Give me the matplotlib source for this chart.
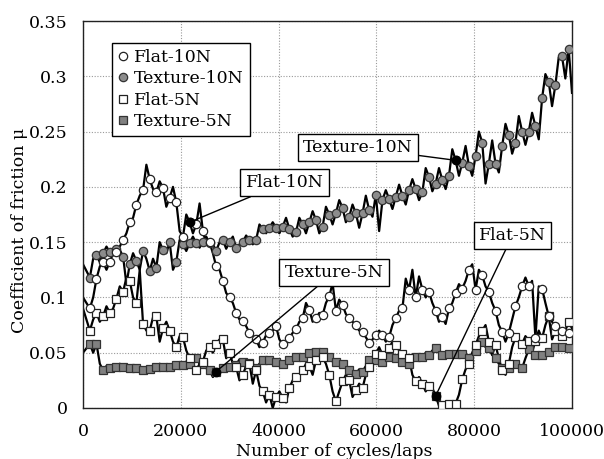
import numpy as np
import matplotlib
matplotlib.use("Agg")
import matplotlib.pyplot as plt

plt.rcParams['font.family'] = ['DejaVu Serif']

# marker sample positions (cycles)
cycles = 1400 + 1360 * np.arange(73)
mid_cycles = cycles[:-1] + 680

# values at marker positions
texture10 = [0.118, 0.138, 0.140, 0.141, 0.144, 0.137, 0.130, 0.133, 0.142, 0.124,
             0.127, 0.143, 0.150, 0.132, 0.148, 0.149, 0.149, 0.150, 0.149, 0.142,
             0.152, 0.150, 0.145, 0.150, 0.152, 0.152, 0.162, 0.163, 0.163, 0.164,
             0.162, 0.159, 0.166, 0.168, 0.170, 0.164, 0.175, 0.176, 0.181, 0.173,
             0.176, 0.176, 0.179, 0.193, 0.188, 0.189, 0.191, 0.192, 0.197, 0.198,
             0.195, 0.209, 0.203, 0.206, 0.210, 0.224, 0.222, 0.219, 0.228, 0.240,
             0.221, 0.221, 0.237, 0.247, 0.240, 0.250, 0.250, 0.255, 0.280, 0.295,
             0.292, 0.318, 0.325]
flat10 = [0.090, 0.117, 0.132, 0.132, 0.141, 0.152, 0.168, 0.184, 0.197, 0.207,
          0.195, 0.199, 0.190, 0.186, 0.155, 0.168, 0.166, 0.160, 0.150, 0.128,
          0.115, 0.100, 0.086, 0.079, 0.068, 0.062, 0.059, 0.068, 0.074, 0.058,
          0.063, 0.071, 0.081, 0.089, 0.081, 0.084, 0.101, 0.088, 0.093, 0.081,
          0.075, 0.069, 0.059, 0.066, 0.066, 0.064, 0.081, 0.090, 0.107, 0.100,
          0.107, 0.105, 0.088, 0.082, 0.090, 0.104, 0.108, 0.125, 0.107, 0.120,
          0.105, 0.088, 0.069, 0.068, 0.092, 0.110, 0.110, 0.063, 0.108, 0.083,
          0.074, 0.070, 0.068]
flat5 = [0.070, 0.086, 0.083, 0.086, 0.099, 0.105, 0.115, 0.095, 0.076, 0.070,
         0.083, 0.072, 0.070, 0.055, 0.064, 0.045, 0.034, 0.042, 0.055, 0.058,
         0.062, 0.050, 0.037, 0.030, 0.040, 0.034, 0.015, 0.012, 0.010, 0.009,
         0.018, 0.028, 0.034, 0.038, 0.043, 0.046, 0.030, 0.006, 0.024, 0.025,
         0.016, 0.018, 0.037, 0.049, 0.048, 0.054, 0.057, 0.049, 0.045, 0.024,
         0.022, 0.020, 0.011, 0.003, 0.004, 0.004, 0.026, 0.040, 0.057, 0.070,
         0.060, 0.057, 0.034, 0.040, 0.064, 0.058, 0.061, 0.061, 0.063, 0.083,
         0.070, 0.065, 0.078]
texture5 = [0.058, 0.058, 0.034, 0.036, 0.037, 0.037, 0.036, 0.036, 0.034, 0.035,
            0.037, 0.037, 0.037, 0.039, 0.039, 0.040, 0.045, 0.040, 0.034, 0.033,
            0.036, 0.037, 0.039, 0.042, 0.041, 0.036, 0.043, 0.043, 0.042, 0.040,
            0.043, 0.046, 0.046, 0.050, 0.051, 0.051, 0.046, 0.042, 0.040, 0.034,
            0.031, 0.033, 0.043, 0.043, 0.042, 0.046, 0.045, 0.042, 0.040, 0.046,
            0.046, 0.048, 0.054, 0.048, 0.049, 0.049, 0.049, 0.045, 0.052, 0.060,
            0.054, 0.045, 0.036, 0.036, 0.040, 0.036, 0.053, 0.048, 0.048, 0.051,
            0.055, 0.055, 0.054]

# raw-line values between marker positions (noise peaks)
texture10_mid = [0.135, 0.132, 0.146, 0.138, 0.143, 0.112, 0.140, 0.125, 0.135, 0.135,
                 0.150, 0.140, 0.125, 0.152, 0.142, 0.155, 0.145, 0.155, 0.148, 0.150,
                 0.144, 0.155, 0.148, 0.156, 0.148, 0.166, 0.158, 0.168, 0.158, 0.172,
                 0.155, 0.172, 0.158, 0.178, 0.158, 0.182, 0.166, 0.188, 0.168, 0.184,
                 0.163, 0.192, 0.173, 0.160, 0.197, 0.180, 0.202, 0.184, 0.207, 0.188,
                 0.217, 0.196, 0.217, 0.198, 0.234, 0.210, 0.237, 0.210, 0.250, 0.203,
                 0.242, 0.213, 0.257, 0.230, 0.264, 0.238, 0.267, 0.243, 0.302, 0.273,
                 0.317, 0.298]
flat10_mid = [0.100, 0.128, 0.125, 0.140, 0.146, 0.158, 0.172, 0.192, 0.220, 0.198,
              0.205, 0.182, 0.200, 0.160, 0.175, 0.158, 0.185, 0.148, 0.140, 0.125,
              0.104, 0.095, 0.080, 0.074, 0.066, 0.055, 0.066, 0.070, 0.062, 0.057,
              0.068, 0.078, 0.095, 0.078, 0.086, 0.095, 0.113, 0.098, 0.085, 0.078,
              0.070, 0.064, 0.062, 0.070, 0.060, 0.075, 0.088, 0.117, 0.125, 0.119,
              0.100, 0.095, 0.078, 0.076, 0.095, 0.112, 0.115, 0.130, 0.125, 0.110,
              0.095, 0.075, 0.060, 0.080, 0.100, 0.118, 0.115, 0.110, 0.095, 0.078,
              0.068, 0.066]
flat5_mid = [0.080, 0.078, 0.092, 0.090, 0.110, 0.118, 0.100, 0.125, 0.070, 0.082,
             0.060, 0.078, 0.060, 0.065, 0.052, 0.040, 0.040, 0.052, 0.050, 0.062,
             0.045, 0.040, 0.025, 0.038, 0.022, 0.020, 0.005, 0.000, 0.015, 0.005,
             0.025, 0.030, 0.040, 0.030, 0.050, 0.040, 0.015, 0.015, 0.030, 0.010,
             0.022, 0.030, 0.044, 0.055, 0.050, 0.060, 0.052, 0.040, 0.030, 0.028,
             0.015, 0.018, 0.002, 0.000, 0.002, 0.012, 0.035, 0.050, 0.065, 0.075,
             0.048, 0.045, 0.030, 0.055, 0.060, 0.065, 0.050, 0.070, 0.075, 0.062,
             0.072, 0.070]
texture5_mid = [0.050, 0.040, 0.038, 0.034, 0.040, 0.035, 0.038, 0.033, 0.037, 0.034,
                0.040, 0.036, 0.040, 0.037, 0.042, 0.043, 0.040, 0.036, 0.028, 0.035,
                0.038, 0.036, 0.044, 0.036, 0.040, 0.040, 0.045, 0.040, 0.044, 0.042,
                0.044, 0.048, 0.045, 0.053, 0.048, 0.048, 0.042, 0.038, 0.036, 0.030,
                0.035, 0.038, 0.045, 0.040, 0.045, 0.044, 0.044, 0.040, 0.044, 0.045,
                0.050, 0.052, 0.050, 0.050, 0.048, 0.050, 0.046, 0.048, 0.058, 0.055,
                0.048, 0.040, 0.034, 0.038, 0.038, 0.045, 0.050, 0.046, 0.050, 0.053,
                0.056, 0.054]

# line start (cycle 0) and end (cycle 100000) values
start_vals = {"Flat-10N": 0.100, "Texture-10N": 0.130, "Flat-5N": 0.090, "Texture-5N": 0.050}
end_vals = {"Flat-10N": 0.066, "Texture-10N": 0.285, "Flat-5N": 0.072, "Texture-5N": 0.052}

labels = ["Flat-10N", "Texture-10N", "Flat-5N", "Texture-5N"]
y_ticks = [0, 0.05, 0.1, 0.15, 0.2, 0.25, 0.3, 0.35]
y_tick_labels = ["0", "0.05", "0.1", "0.15", "0.2", "0.25", "0.3", "0.35"]
x_ticks = [0, 20000, 40000, 60000, 80000, 100000]


def line_xy(vals, mids, start, end):
    xs = [0.0]
    ys = [start]
    for i in range(len(vals)):
        xs.append(cycles[i]); ys.append(vals[i])
        if i < len(mids):
            xs.append(mid_cycles[i]); ys.append(mids[i])
    xs.append(100000); ys.append(end)
    return xs, ys


fig = plt.figure(figsize=(6.04, 4.59), dpi=100)
ax = fig.add_axes([83/604, 1-408/459, 489/604, 387/459])

series = {
    "Texture-5N": (texture5, texture5_mid, dict(marker='s', mfc='#808080', mec='#333333')),
    "Flat-5N": (flat5, flat5_mid, dict(marker='s', mfc='white', mec='#222222')),
    "Texture-10N": (texture10, texture10_mid, dict(marker='o', mfc='#8c8c8c', mec='#333333')),
    "Flat-10N": (flat10, flat10_mid, dict(marker='o', mfc='white', mec='#222222')),
}
handles = {}
for name, (vals, mids, st) in series.items():
    lx, ly = line_xy(vals, mids, start_vals[name], end_vals[name])
    ax.plot(lx, ly, color='black', lw=1.6, zorder=2)
    h, = ax.plot(cycles, vals, ls='none', ms=6, mew=0.9, zorder=3, label=name, **st)
    handles[name] = h

ax.set_xlim(0, 100000)
ax.set_ylim(0, 0.35)
ax.set_xticks(x_ticks)
ax.set_xticklabels([str(t) for t in x_ticks])
ax.set_yticks(y_ticks)
ax.set_yticklabels(y_tick_labels)
ax.tick_params(length=0, labelsize=12.5, pad=11)
ax.grid(True, ls=(0, (1, 1.5)), color='#9a9a9a', lw=0.8)
ax.set_axisbelow(True)
for s in ax.spines.values():
    s.set_linewidth(1.0)
    s.set_color('#222222')

leg = ax.legend([handles[n] for n in labels], labels, loc='upper left',
                bbox_to_anchor=((112-83)/489, (408-43)/387), borderaxespad=0,
                fontsize=12.5, handlelength=0.6, handletextpad=0.3,
                labelspacing=0.25, borderpad=0.35, fancybox=False, framealpha=1,
                edgecolor='black')
leg.get_frame().set_linewidth(1.0)

box = dict(boxstyle='square,pad=0.3', fc='white', ec='black', lw=1.0)
arrow = dict(arrowstyle='-', color='black', lw=1.0, shrinkA=0, shrinkB=0)
ann = [
    ("Flat-10N", flat10, 15, ((284.5-83)/489, (408-182.5)/387)),
    ("Texture-10N", texture10, 55, ((358-83)/489, (408-147.5)/387)),
    ("Texture-5N", texture5, 19, ((334-83)/489, (408-272.5)/387)),
    ("Flat-5N", flat5, 52, ((512.5-83)/489, (408-235.5)/387)),
]
for name, vals, idx, pos in ann:
    ax.annotate(name, xy=(cycles[idx], vals[idx]), xytext=pos, textcoords='axes fraction',
                ha='center', va='center', fontsize=12.5, bbox=box, arrowprops=arrow, zorder=6)
    ax.plot([cycles[idx]], [vals[idx]], 'o', color='black', ms=6, zorder=5)

fig.text(20/604, 1-230/459, "Coefficient of friction μ", rotation=90,
         ha='center', va='center', fontsize=12.5)
fig.text(334/604, 1-452/459, "Number of cycles/laps", ha='center', va='center', fontsize=12.5)

fig.savefig("out.png", dpi=100)
